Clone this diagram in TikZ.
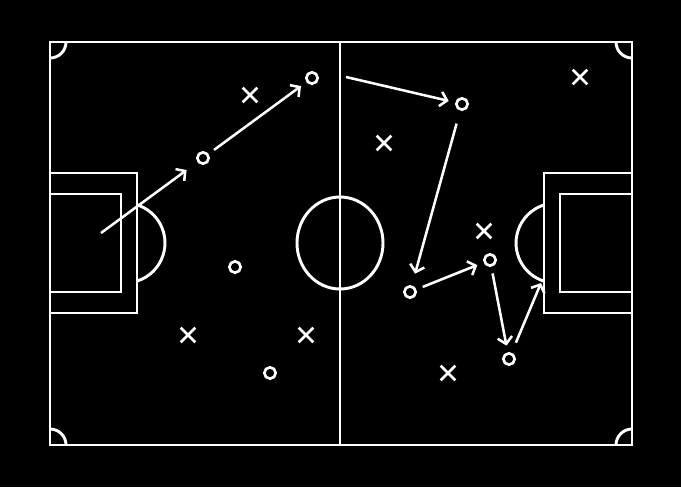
\documentclass[tikz,border=0pt]{standalone}
\usetikzlibrary{arrows.meta,shapes.misc}

\begin{document}
\begin{tikzpicture}[x=0.75pt, y=-0.75pt,
		pitch/.style={draw=white, line width=2.2pt},
		mine/.style={circle, draw=white, line width=2pt, minimum size=8.5pt, inner sep=0pt},
		theirs/.style={cross out, draw=white, line width=2pt, minimum size=9pt, inner sep=0pt},
		arrow/.style={draw=white, line width=1.9pt, -{Straight Barb[length=5pt,width=11pt]}, shorten <=5pt, shorten >=5pt}
	]
	\fill[black] (0,0) rectangle (681,487);
	\useasboundingbox (0,0) rectangle (681,487);

	% pitch
	\draw[pitch] (50,42) rectangle (632,445);
	\draw[pitch] (340,42) -- (340,445);
	\draw[pitch] (340,243) ellipse[x radius=43, y radius=46];
	\draw[pitch] (50,173) rectangle (137,313);
	\draw[pitch] (50,194) rectangle (121,292);
	\draw[pitch] (632,173) rectangle (544,313);
	\draw[pitch] (632,194) rectangle (560,292);
	\draw[pitch] (137,204.8) arc[start angle=-72.5, end angle=72.5, radius=40];
	\draw[pitch] (544,281.2) arc[start angle=107.5, end angle=252.5, radius=40];
	\draw[pitch] (66,42) arc[start angle=0, end angle=90, radius=16];
	\draw[pitch] (616,42) arc[start angle=180, end angle=90, radius=16];
	\draw[pitch] (66,445) arc[start angle=0, end angle=-90, radius=16];
	\draw[pitch] (616,445) arc[start angle=180, end angle=270, radius=16];

	% players
	\node (o1) [mine] at (203,158) {};
	\node (o2) [mine] at (312,78) {};
	\node (o3) [mine] at (462,104) {};
	\node (o4) [mine] at (410,292) {};
	\node (o5) [mine] at (490,260) {};
	\node (o6) [mine] at (509,359) {};
	\node (o7) [mine] at (235,267) {};
	\node (o8) [mine] at (270,373) {};

	\node (x1) [theirs] at (250,95) {};
	\node (x2) [theirs] at (384,143) {};
	\node (x3) [theirs] at (580,77) {};
	\node (x4) [theirs] at (484,231) {};
	\node (x5) [theirs] at (188,335) {};
	\node (x6) [theirs] at (306,335) {};
	\node (x7) [theirs] at (448,373) {};

	\coordinate (kick) at (101,233);
	\coordinate (half) at (346,77);
	\coordinate (shot) at (541,283);

	% moves
	\draw [arrow, shorten <=0pt, shorten >=10pt] (kick) -- (o1);
	\draw [arrow] (o1) -- (o2);
	\draw [arrow, shorten <=0pt] (half) -- (o3);
	\draw [arrow, shorten <=10pt, shorten >=9pt] (o3) -- (o4);
	\draw [arrow] (o4) -- (o5);
	\draw [arrow] (o5) -- (o6);
	\draw [arrow, shorten <=8pt, shorten >=0pt] (o6) -- (shot);

\end{tikzpicture}
\end{document}
